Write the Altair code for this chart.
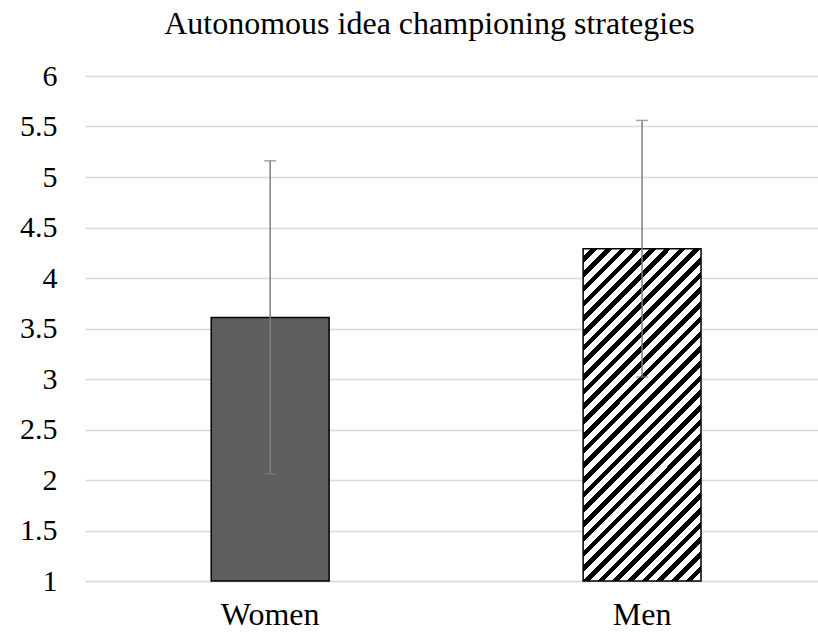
import math
import altair as alt
import pandas as pd

# ---- data ----
groups = ["Women", "Men"]
means = [3.61, 4.29]
err_low = [2.06, 3.02]
err_high = [5.16, 5.56]
y_ticks = [1, 1.5, 2, 2.5, 3, 3.5, 4, 4.5, 5, 5.5, 6]
title_text = "Autonomous idea championing strategies"

df = pd.DataFrame({"group": groups, "mean": means, "low": err_low,
                   "high": err_high, "base": [1, 1]})

SERIF = "Liberation Serif"
PLOT_W, PLOT_H = 733, 505
Y_MIN, Y_MAX = 1, 6

# ---- diagonal hatch emulated with a hard-stop linear gradient ----
bar_w = 118.0
bar_h = (means[1] - Y_MIN) * PLOT_H / (Y_MAX - Y_MIN)
s = (bar_w ** 2 + bar_h ** 2) / (bar_w + bar_h)
gx2, gy2 = bar_w / s, bar_h / s
diag_len = (bar_w + bar_h) / math.sqrt(2)
period = 10.4
black_frac = 0.45
stops = []
k = 0
while True:
    start = k * period / diag_len
    if start >= 1:
        break
    mid = start + (1 - black_frac) * period / diag_len
    end = (k + 1) * period / diag_len
    stops += [
        {"offset": min(start, 1), "color": "#ffffff"},
        {"offset": min(mid, 1), "color": "#ffffff"},
        {"offset": min(mid, 1), "color": "#000000"},
        {"offset": min(end, 1), "color": "#000000"},
    ]
    k += 1
hatch = {"gradient": "linear", "x1": 0, "y1": 0, "x2": gx2, "y2": gy2, "stops": stops}

x_enc = alt.X(
    "group:N", sort=groups,
    scale=alt.Scale(paddingInner=0.683, paddingOuter=0.327, align=0.519),
    axis=alt.Axis(title=None, labelAngle=0, labelFont=SERIF, labelFontSize=32,
                  labelColor="#000000", labelPadding=18, ticks=False,
                  domain=True, domainColor="#d9d9d9", domainWidth=1.5, grid=False),
)
y_enc = alt.Y(
    "mean:Q",
    scale=alt.Scale(domain=[Y_MIN, Y_MAX], nice=False, zero=False),
    axis=alt.Axis(values=y_ticks, format="~g", title=None, labelFont=SERIF,
                  labelFontSize=30, labelColor="#000000", labelPadding=28,
                  ticks=False, tickSize=0, domain=False, gridColor="#d9d9d9",
                  gridWidth=1.5),
)

base = alt.Chart(df)

women_bar = base.transform_filter(alt.datum.group == "Women").mark_bar(
    fill="#5e5e5e", stroke="#000000", strokeWidth=1.5
).encode(x=x_enc, y=y_enc, y2="base:Q")

men_bar = base.transform_filter(alt.datum.group == "Men").mark_bar(
    fill=hatch, stroke="#000000", strokeWidth=1.5
).encode(x=x_enc, y=y_enc, y2="base:Q")

err_rule = base.mark_rule(color="#7f7f7f", strokeWidth=1.5).encode(
    x=x_enc, y="low:Q", y2="high:Q")
cap_hi = base.mark_tick(color="#7f7f7f", thickness=1.5, size=12, orient="horizontal").encode(
    x=x_enc, y="high:Q")
cap_lo = base.mark_tick(color="#7f7f7f", thickness=1.5, size=12, orient="horizontal").encode(
    x=x_enc, y="low:Q")

chart = alt.layer(women_bar, men_bar, err_rule, cap_hi, cap_lo).properties(
    width=PLOT_W, height=PLOT_H,
    title=alt.Title(title_text, font=SERIF, fontSize=32, fontWeight="normal",
                    color="#000000", anchor="middle", dx=-22, dy=31, offset=26,
                    baseline="alphabetic"),
    autosize=alt.AutoSizeParams(type="none"),
    padding={"left": 85, "top": 76, "right": 0, "bottom": 56},
    background="white",
).configure_view(stroke=None)

chart.save("out.html", embed_options={"renderer": "svg", "actions": False})
